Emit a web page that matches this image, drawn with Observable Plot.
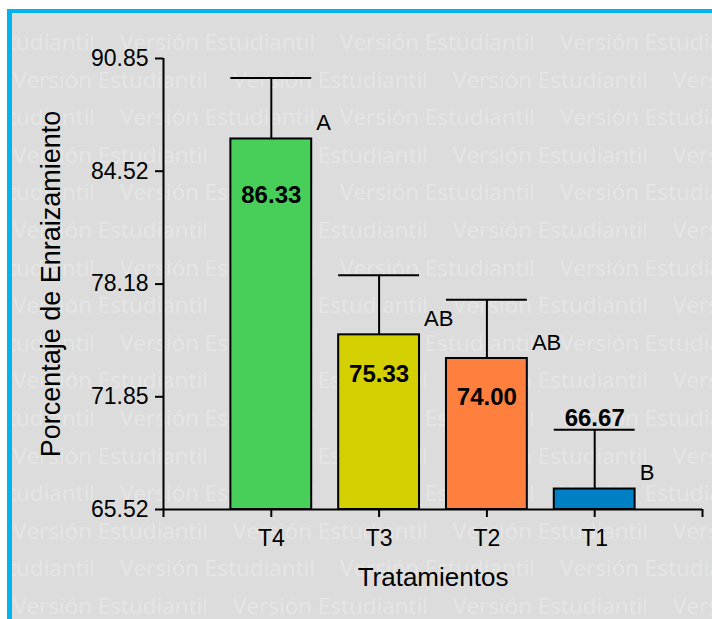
<!DOCTYPE html>
<html>
<head>
<meta charset="utf-8">
<script src="https://cdn.jsdelivr.net/npm/d3@7"></script>
<script src="https://cdn.jsdelivr.net/npm/@observablehq/plot@0.6"></script>
<style>
  html, body { margin: 0; padding: 0; background: #fff; }
  #chart { position: absolute; left: 7px; top: 9px; }
</style>
</head>
<body>
<div id="chart"></div>
<script>
// Rooting percentage by treatment (mean + error bar, Tukey groups)
const treatments = ["T4", "T3", "T2", "T1"];
const means = [86.33, 75.33, 74.00, 66.67];
const errors = [3.42, 3.35, 3.30, 3.33];
const groups = ["A", "AB", "AB", "B"];
const barColors = ["#47cf5a", "#d4d000", "#ff7f3f", "#0080c4"];
const yTicks = [65.52, 71.85, 78.18, 84.52, 90.85];
const yTickLabels = ["65.52", "71.85", "78.18", "84.52", "90.85"];
const yTitle = "Porcentaje de Enraizamiento";
const xTitle = "Tratamientos";
const watermark = "Versión Estudiantil";

const rows = treatments.map((t, i) => ({
  t, pos: i + 1, mean: means[i], err: errors[i], upper: means[i] + errors[i],
  group: groups[i], color: barColors[i]
}));
const half = 0.375;
const yMin = yTicks[0], yMax = yTicks[yTicks.length - 1];
const font = "'Liberation Sans', Arial, sans-serif";
const inside = (name) => rows.filter(d => d.t === name);

const chart = Plot.plot({
  width: 700,
  height: 606,
  marginLeft: 151,
  marginRight: 10,
  marginTop: 45,
  marginBottom: 110,
  style: `background:#dcdcdc;border-left:5px solid #00b4f0;border-top:4px solid #00b4f0;font-family:${font};color:#000;overflow:hidden;`,
  x: { type: "linear", domain: [0, treatments.length + 1], axis: null },
  y: { domain: [yMin, yMax], axis: null },
  color: { type: "identity" },
  marks: [
    // error bars
    Plot.ruleX(rows, { x: "pos", y1: "mean", y2: "upper", stroke: "#000", strokeWidth: 2 }),
    Plot.ruleY(rows, { y: "upper", x1: d => d.pos - half, x2: d => d.pos + half, stroke: "#000", strokeWidth: 2 }),
    // bars
    Plot.rectY(rows, { x1: d => d.pos - half, x2: d => d.pos + half, y1: yMin, y2: "mean", fill: "color", stroke: "#000", strokeWidth: 2 }),
    // axes
    Plot.ruleX([0], { y1: yMin, y2: yMax, stroke: "#000", strokeWidth: 2 }),
    Plot.ruleY([yMin], { x1: 0, x2: treatments.length + 1, stroke: "#000", strokeWidth: 2 }),
    Plot.axisY(yTicks, {
      tickSize: 8, tickPadding: 7, fontSize: 23, strokeWidth: 2, label: null,
      tickFormat: d => yTickLabels[yTicks.indexOf(d)]
    }),
    Plot.axisX(d3.range(0, treatments.length + 2), {
      tickSize: 8, tickPadding: 12, fontSize: 23, strokeWidth: 2, label: null,
      tickFormat: d => treatments[d - 1] ?? ""
    }),
    // group letters
    Plot.text(rows, { x: "pos", y: "mean", text: "group", dx: 45, dy: -16, textAnchor: "start", fontSize: 22, fill: "#000" }),
    // mean labels
    Plot.text(inside("T4"), { x: "pos", y: "mean", text: d => d.mean.toFixed(2), dy: 56, fontSize: 24, fontWeight: "bold", fill: "#000" }),
    Plot.text([...inside("T3"), ...inside("T2")], { x: "pos", y: "mean", text: d => d.mean.toFixed(2), dy: 39, fontSize: 24, fontWeight: "bold", fill: "#000" }),
    Plot.text(inside("T1"), { x: "pos", y: "upper", text: d => d.mean.toFixed(2), dy: -11, fontSize: 24, fontWeight: "bold", fill: "#000" }),
    // axis titles
    Plot.text([xTitle], { frameAnchor: "bottom", lineAnchor: "top", dy: 58, fontSize: 26, fill: "#000" }),
    Plot.text([yTitle], { frameAnchor: "left", textAnchor: "middle", lineAnchor: "top", rotate: -90, dx: -123, fontSize: 27, fill: "#000" })
  ]
});

// student-edition watermark tiled behind the chart
const bg = d3.select(chart).insert("g", ":first-child")
  .attr("fill", "#e5e5e5")
  .attr("text-anchor", "start")
  .attr("font-family", "'Open Sans', sans-serif")
  .attr("font-size", 22.5);
for (let r = 0; r < 17; r++) {
  const y = 50 + r * 37.6 - 13;
  const x0 = (r % 2 === 0 ? 120 : 13) - 12 - 220;
  for (let x = x0; x < 712; x += 220) {
    bg.append("text").attr("x", x).attr("y", y).text(watermark);
  }
}

document.getElementById("chart").append(chart);
</script>
</body>
</html>
